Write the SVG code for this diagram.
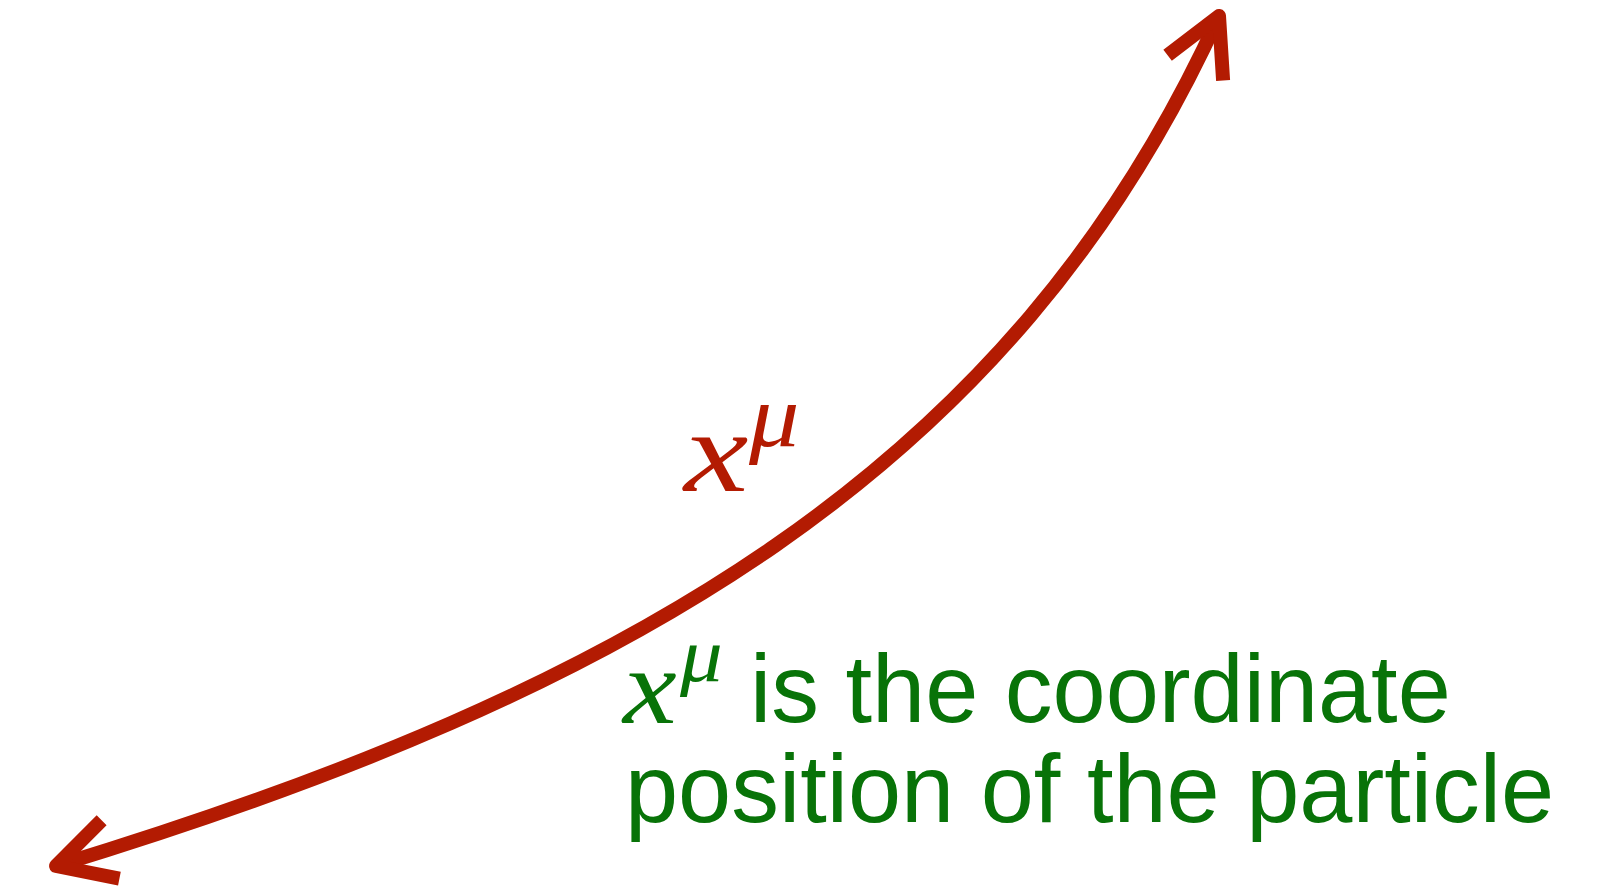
<svg xmlns="http://www.w3.org/2000/svg" width="1613" height="887" viewBox="0 0 1613 887">
  <style>
    .curve { fill: none; stroke: #B31B02; stroke-width: 14; stroke-linecap: butt; }
    .head { fill: none; stroke: #B31B02; stroke-width: 14; stroke-linecap: butt; stroke-linejoin: round; }
    .math { font-family: "Liberation Serif", "Times New Roman", serif; font-style: italic; }
    .body { font-family: "Liberation Sans", Arial, sans-serif; font-size: 95.5px; fill: #087308; }
    .red { fill: #B31B02; }
    .green { fill: #087308; }
  </style>
  <defs>
    <marker id="arrow" markerUnits="userSpaceOnUse" orient="auto-start-reverse" viewBox="-80 -60 100 120" refX="0" refY="0" markerWidth="100" markerHeight="120" overflow="visible">
      <path class="head" d="M-57,-30.5 L0,0 L-57,30.5"/>
    </marker>
  </defs>
  <rect width="1613" height="887" fill="#ffffff"/>
  <g id="connectors">
    <path id="worldline" class="curve" d="M56,866 C630,691 1012,470 1219,16" marker-start="url(#arrow)" marker-end="url(#arrow)"/>
  </g>
  <g id="curve-label">
    <text class="math red" transform="translate(684,491) scale(1.25,1)" font-size="116">x</text>
    <text class="math red" transform="translate(749,445.5) scale(1.13,1)" font-size="89">μ</text>
  </g>
  <g id="caption">
    <text class="math green" transform="translate(623,723) scale(1.11,1)" font-size="109">x</text>
    <text class="math green" transform="translate(680,681) scale(1.12,1)" font-size="76">μ</text>
    <text class="body" x="750" y="722">is the coordinate</text>
    <text class="body" x="625" y="822">position of the particle</text>
  </g>
</svg>
